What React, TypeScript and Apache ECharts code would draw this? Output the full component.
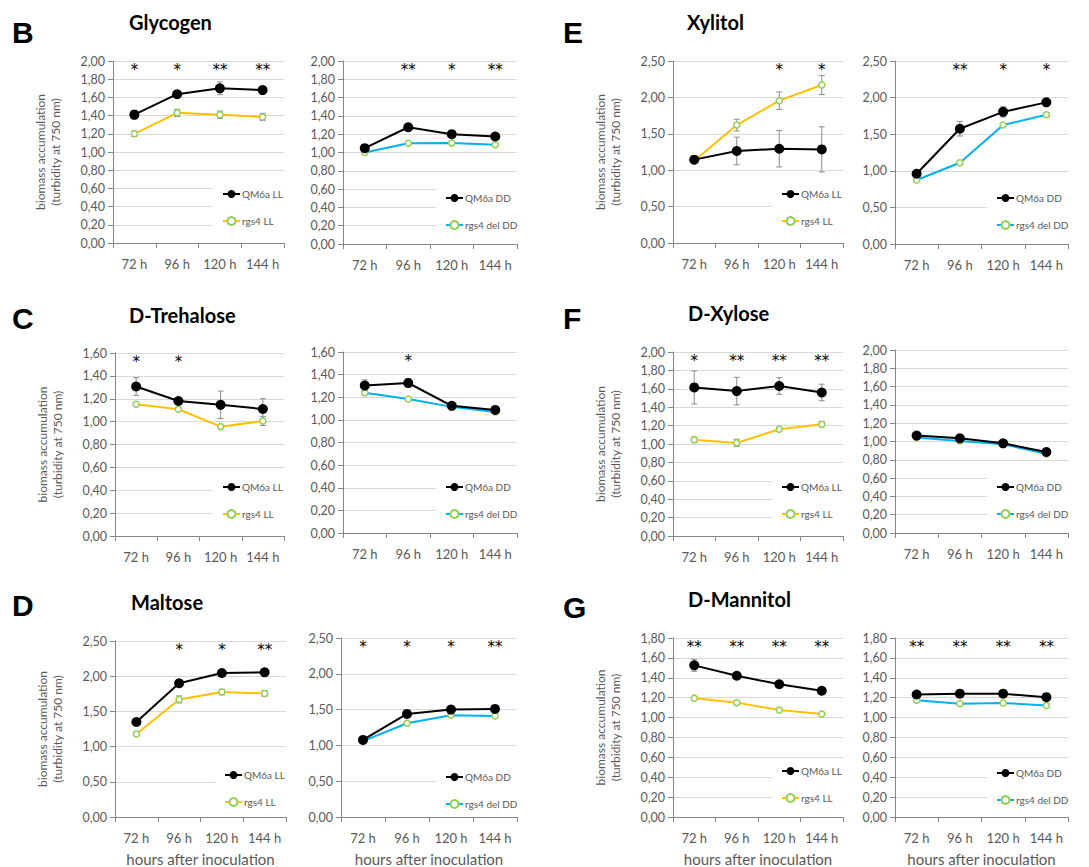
import React, { useEffect, useRef } from 'react';
import * as echarts from 'echarts';

const hours = ['72 h', '96 h', '120 h', '144 h'];
const panelLetters = ['B', 'C', 'D', 'E', 'F', 'G'];
const substrates = ['Glycogen', 'D-Trehalose', 'Maltose', 'Xylitol', 'D-Xylose', 'D-Mannitol'];
const seriesNames = ['QM6a LL', 'rgs4 LL', 'QM6a DD', 'rgs4 del DD'];
const yAxisTitle = 'biomass accumulation\n(turbidity at 750 nm)';
const xAxisTitle = 'hours after inoculation';

// Glycogen
const glycogenQM6aLL = [1.41, 1.635, 1.7, 1.68];
const glycogenQM6aLLErr = [0.05, 0.04, 0.07, 0.04];
const glycogenRgs4LL = [1.2, 1.43, 1.41, 1.385];
const glycogenRgs4LLErr = [0.03, 0.04, 0.04, 0.04];
const glycogenQM6aDD = [1.047, 1.276, 1.2, 1.175];
const glycogenQM6aDDErr = [0.03, 0.04, 0.02, 0.02];
const glycogenRgs4DD = [1.0, 1.1, 1.105, 1.085];
const glycogenRgs4DDErr = [0.01, 0.01, 0.01, 0.01];
const glycogenSigLL = ['*', '*', '**', '**'];
const glycogenSigDD = ['', '**', '*', '**'];

// D-Trehalose
const trehaloseQM6aLL = [1.307, 1.18, 1.147, 1.11];
const trehaloseQM6aLLErr = [0.077, 0.02, 0.12, 0.09];
const trehaloseRgs4LL = [1.152, 1.108, 0.956, 1.006];
const trehaloseRgs4LLErr = [0.01, 0.01, 0.01, 0.04];
const trehaloseQM6aDD = [1.303, 1.326, 1.124, 1.088];
const trehaloseQM6aDDErr = [0.05, 0.04, 0.01, 0.01];
const trehaloseRgs4DD = [1.24, 1.185, 1.115, 1.07];
const trehaloseRgs4DDErr = [0.01, 0.01, 0.01, 0.01];
const trehaloseSigLL = ['*', '*', '', ''];
const trehaloseSigDD = ['', '*', '', ''];

// Maltose
const maltoseQM6aLL = [1.35, 1.9, 2.045, 2.055];
const maltoseQM6aLLErr = [0.03, 0.05, 0.04, 0.02];
const maltoseRgs4LL = [1.18, 1.67, 1.775, 1.755];
const maltoseRgs4LLErr = [0.01, 0.05, 0.04, 0.04];
const maltoseQM6aDD = [1.077, 1.44, 1.5, 1.51];
const maltoseQM6aDDErr = [0.02, 0.04, 0.02, 0.02];
const maltoseRgs4DD = [1.06, 1.31, 1.42, 1.41];
const maltoseRgs4DDErr = [0.01, 0.01, 0.01, 0.01];
const maltoseSigLL = ['', '*', '*', '**'];
const maltoseSigDD = ['*', '*', '*', '**'];

// Xylitol
const xylitolQM6aLL = [1.145, 1.264, 1.295, 1.286];
const xylitolQM6aLLErr = [0.02, 0.19, 0.25, 0.31];
const xylitolRgs4LL = [1.13, 1.62, 1.955, 2.17];
const xylitolRgs4LLErr = [0.02, 0.08, 0.12, 0.13];
const xylitolQM6aDD = [0.96, 1.575, 1.805, 1.935];
const xylitolQM6aDDErr = [0.02, 0.1, 0.07, 0.02];
const xylitolRgs4DD = [0.875, 1.11, 1.625, 1.765];
const xylitolRgs4DDErr = [0.01, 0.01, 0.01, 0.03];
const xylitolSigLL = ['', '', '*', '*'];
const xylitolSigDD = ['', '**', '*', '*'];

// D-Xylose
const xyloseQM6aLL = [1.615, 1.575, 1.63, 1.56];
const xyloseQM6aLLErr = [0.18, 0.15, 0.09, 0.09];
const xyloseRgs4LL = [1.045, 1.012, 1.16, 1.215];
const xyloseRgs4LLErr = [0.03, 0.04, 0.02, 0.03];
const xyloseQM6aDD = [1.065, 1.035, 0.98, 0.885];
const xyloseQM6aDDErr = [0.01, 0.01, 0.01, 0.01];
const xyloseRgs4DD = [1.045, 1.005, 0.97, 0.865];
const xyloseRgs4DDErr = [0.01, 0.01, 0.01, 0.01];
const xyloseSigLL = ['*', '**', '**', '**'];
const xyloseSigDD = ['', '', '', ''];

// D-Mannitol
const mannitolQM6aLL = [1.525, 1.42, 1.335, 1.27];
const mannitolQM6aLLErr = [0.06, 0.02, 0.02, 0.02];
const mannitolRgs4LL = [1.195, 1.15, 1.075, 1.035];
const mannitolRgs4LLErr = [0.01, 0.02, 0.01, 0.01];
const mannitolQM6aDD = [1.232, 1.24, 1.24, 1.205];
const mannitolQM6aDDErr = [0.01, 0.01, 0.01, 0.01];
const mannitolRgs4DD = [1.175, 1.14, 1.147, 1.12];
const mannitolRgs4DDErr = [0.01, 0.01, 0.01, 0.01];
const mannitolSigLL = ['**', '**', '**', '**'];
const mannitolSigDD = ['**', '**', '**', '**'];

// axis ranges per substrate
const yMaxes = [2.0, 1.6, 2.5, 2.5, 2.0, 1.8];
const ySteps = [0.2, 0.2, 0.5, 0.5, 0.2, 0.2];

const FONT = 'Lato, "Open Sans", sans-serif';
const STAR_FONT = '"DejaVu Sans", sans-serif';
const BLACK = '#000000';
const GOLD = '#FFC000';
const BLUE = '#00B0F0';
const GREEN = '#92D050';
const AXIS = '#868686';
const LABEL = '#595959';

// layout: grid [left, top, width, height] for LL and DD plots; header positions
const layouts = [
  { ll: [113, 61, 171, 182], dd: [343, 61, 174, 183], letter: [12, 32], title: [129, 22], bottom: false },
  { ll: [115, 353, 169, 183], dd: [343, 352, 174, 181], letter: [12, 318], title: [129, 315], bottom: false },
  { ll: [115, 641, 171, 183], dd: [341, 638, 176, 185], letter: [12, 605], title: [131, 602], bottom: true },
  { ll: [673, 61, 170, 182], dd: [895, 61, 173, 183], letter: [563, 32], title: [687, 22], bottom: false },
  { ll: [673, 352, 170, 184], dd: [895, 350, 173, 183], letter: [563, 318], title: [688, 313], bottom: false },
  { ll: [673, 638, 170, 182], dd: [895, 638, 173, 181], letter: [563, 607], title: [688, 599], bottom: true },
];

const panelData = [
  { ll: [glycogenQM6aLL, glycogenQM6aLLErr, glycogenRgs4LL, glycogenRgs4LLErr, glycogenSigLL], dd: [glycogenQM6aDD, glycogenQM6aDDErr, glycogenRgs4DD, glycogenRgs4DDErr, glycogenSigDD] },
  { ll: [trehaloseQM6aLL, trehaloseQM6aLLErr, trehaloseRgs4LL, trehaloseRgs4LLErr, trehaloseSigLL], dd: [trehaloseQM6aDD, trehaloseQM6aDDErr, trehaloseRgs4DD, trehaloseRgs4DDErr, trehaloseSigDD] },
  { ll: [maltoseQM6aLL, maltoseQM6aLLErr, maltoseRgs4LL, maltoseRgs4LLErr, maltoseSigLL], dd: [maltoseQM6aDD, maltoseQM6aDDErr, maltoseRgs4DD, maltoseRgs4DDErr, maltoseSigDD] },
  { ll: [xylitolQM6aLL, xylitolQM6aLLErr, xylitolRgs4LL, xylitolRgs4LLErr, xylitolSigLL], dd: [xylitolQM6aDD, xylitolQM6aDDErr, xylitolRgs4DD, xylitolRgs4DDErr, xylitolSigDD] },
  { ll: [xyloseQM6aLL, xyloseQM6aLLErr, xyloseRgs4LL, xyloseRgs4LLErr, xyloseSigLL], dd: [xyloseQM6aDD, xyloseQM6aDDErr, xyloseRgs4DD, xyloseRgs4DDErr, xyloseSigDD] },
  { ll: [mannitolQM6aLL, mannitolQM6aLLErr, mannitolRgs4LL, mannitolRgs4LLErr, mannitolSigLL], dd: [mannitolQM6aDD, mannitolQM6aDDErr, mannitolRgs4DD, mannitolRgs4DDErr, mannitolSigDD] },
];

function errorSeries(idx: number, vals: number[], errs: number[]) {
  return {
    type: 'custom',
    xAxisIndex: idx,
    yAxisIndex: idx,
    silent: true,
    z: 2,
    data: vals.map((v, k) => [k, v - errs[k], v + errs[k]]),
    renderItem: (params: any, api: any) => {
      const x = api.value(0);
      const lo = api.coord([x, api.value(1)]);
      const hi = api.coord([x, api.value(2)]);
      const cap = 3;
      const st = { stroke: '#8c8c8c', lineWidth: 1 };
      return {
        type: 'group',
        children: [
          { type: 'line', shape: { x1: lo[0], y1: lo[1], x2: hi[0], y2: hi[1] }, style: st },
          { type: 'line', shape: { x1: lo[0] - cap, y1: lo[1], x2: lo[0] + cap, y2: lo[1] }, style: st },
          { type: 'line', shape: { x1: hi[0] - cap, y1: hi[1], x2: hi[0] + cap, y2: hi[1] }, style: st },
        ],
      };
    },
  };
}

function starSeries(idx: number, sig: string[], yMax: number) {
  return {
    type: 'custom',
    xAxisIndex: idx,
    yAxisIndex: idx,
    silent: true,
    z: 5,
    data: sig.map((s, k) => [k, yMax]),
    renderItem: (params: any, api: any) => {
      const p = api.coord([api.value(0), api.value(1)]);
      return {
        type: 'text',
        x: p[0],
        y: p[1] + 1,
        style: {
          text: sig[params.dataIndex],
          fill: '#000000',
          fontSize: 15,
          fontFamily: STAR_FONT,
          align: 'center',
          verticalAlign: 'top',
        },
      };
    },
  };
}

function buildOption() {
  const grid: any[] = [];
  const xAxis: any[] = [];
  const yAxis: any[] = [];
  const series: any[] = [];
  const legend: any[] = [];
  const graphic: any[] = [];

  layouts.forEach((lay, p) => {
    graphic.push({
      type: 'text', x: lay.letter[0], y: lay.letter[1],
      style: { text: panelLetters[p], fontSize: 30, fontWeight: 'bold', fontFamily: '"Liberation Sans", Arial, sans-serif', fill: '#000', verticalAlign: 'middle' },
    });
    graphic.push({
      type: 'text', x: lay.title[0], y: lay.title[1],
      style: { text: substrates[p], fontSize: 20, fontWeight: 'bold', fontFamily: FONT, fill: '#000', verticalAlign: 'middle' },
    });

    (['ll', 'dd'] as const).forEach((side) => {
      const idx = grid.length;
      const g = lay[side];
      const [qm, qmErr, mut, mutErr, sig] = (panelData[p] as any)[side];
      const qmName = side === 'll' ? seriesNames[0] : seriesNames[2];
      const mutName = side === 'll' ? seriesNames[1] : seriesNames[3];
      const mutColor = side === 'll' ? GOLD : BLUE;
      grid.push({ left: g[0], top: g[1], width: g[2], height: g[3], containLabel: false });
      xAxis.push({
        gridIndex: idx,
        type: 'category',
        data: hours,
        boundaryGap: true,
        axisLine: { lineStyle: { color: AXIS, width: 1 } },
        axisTick: { show: true, length: 5, interval: 0, lineStyle: { color: AXIS } },
        axisLabel: { color: LABEL, fontSize: 13, fontFamily: FONT, margin: 14, interval: 0 },
        name: lay.bottom ? xAxisTitle : '',
        nameLocation: 'middle',
        nameGap: 34,
        nameTextStyle: { color: LABEL, fontSize: 15, fontFamily: FONT },
      });
      yAxis.push({
        gridIndex: idx,
        type: 'value',
        min: 0,
        max: yMaxes[p],
        interval: ySteps[p],
        axisLine: { show: true, lineStyle: { color: AXIS, width: 1 } },
        axisTick: { show: true, length: 5, lineStyle: { color: AXIS } },
        axisLabel: {
          color: LABEL, fontSize: 12.5, fontFamily: FONT, margin: 8,
          formatter: (v: number) => v.toFixed(2).replace('.', ','),
        },
        splitLine: { show: true, lineStyle: { color: '#d9d9d9', width: 1 } },
        name: side === 'll' ? yAxisTitle : '',
        nameLocation: 'middle',
        nameGap: 50,
        nameTextStyle: { color: LABEL, fontSize: 12, lineHeight: 15, fontFamily: FONT },
      });
      series.push(errorSeries(idx, qm, qmErr));
      series.push(errorSeries(idx, mut, mutErr));
      series.push({
        type: 'line', name: qmName, xAxisIndex: idx, yAxisIndex: idx, data: qm,
        symbol: 'circle', symbolSize: 10, z: 4,
        lineStyle: { color: BLACK, width: 2 },
        itemStyle: { color: BLACK },
      });
      series.push({
        type: 'line', name: mutName, xAxisIndex: idx, yAxisIndex: idx, data: mut,
        symbol: 'circle', symbolSize: 6, z: 3,
        lineStyle: { color: mutColor, width: 2 },
        itemStyle: { color: '#ffffff', borderColor: GREEN, borderWidth: 1.5 },
      });
      series.push(starSeries(idx, sig, yMaxes[p]));

      const right = g[0] + g[2];
      const bottom = g[1] + g[3];
      const iconStart = side === 'll' ? right - 62 : right - 72;
      const firstCenter = side === 'll' ? bottom - 48 : bottom - 45;
      legend.push({
        orient: 'vertical',
        left: iconStart - 9,
        top: firstCenter - 6 - 4,
        padding: [4, 6, 4, 9],
        backgroundColor: '#ffffff',
        itemWidth: 17,
        itemHeight: 10,
        itemGap: 17,
        selectedMode: false,
        data: [qmName, mutName],
        textStyle: { color: LABEL, fontSize: 10, fontFamily: FONT, padding: [0, 0, 0, -3] },
      });
    });
  });

  return {
    animation: false,
    backgroundColor: '#ffffff',
    textStyle: { fontFamily: FONT },
    grid, xAxis, yAxis, series, legend, graphic,
  };
}

export default function App() {
  const ref = useRef<HTMLDivElement>(null);
  useEffect(() => {
    document.body.style.margin = '0';
    const chart = echarts.init(ref.current!, undefined, { renderer: 'svg' });
    chart.setOption(buildOption() as any);
    return () => chart.dispose();
  }, []);
  return <div ref={ref} style={{ width: 1089, height: 867 }} />;
}
